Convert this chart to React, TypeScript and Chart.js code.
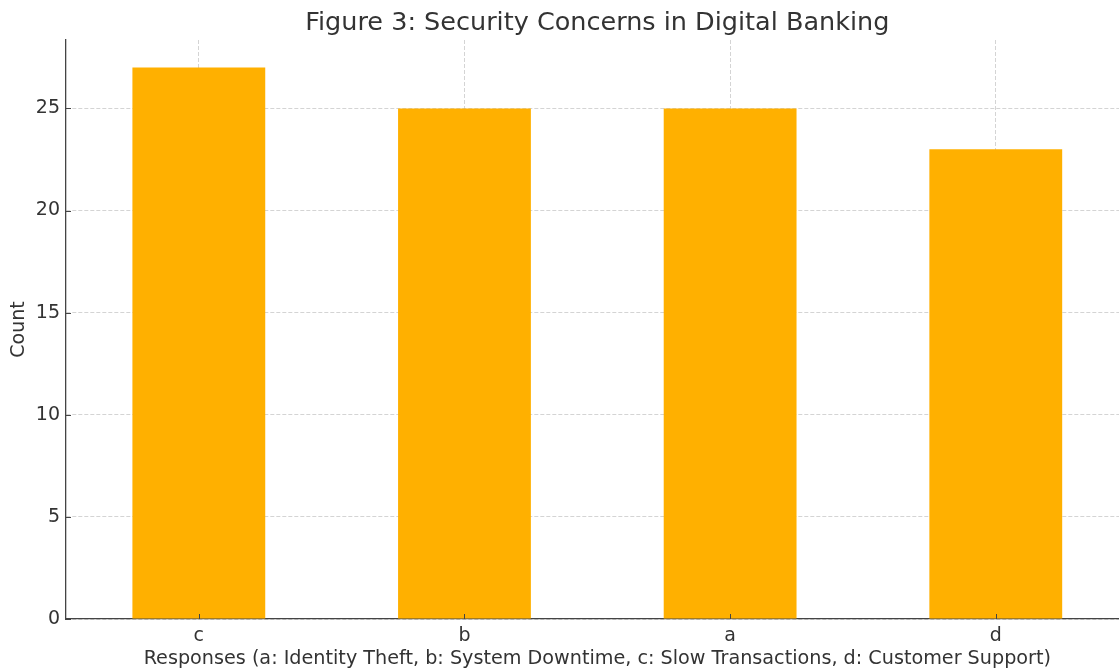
import React, { useEffect, useRef } from "react";
import { Chart, registerables } from "chart.js";

Chart.register(...registerables);

const categories = ["c", "b", "a", "d"];
const counts = [27, 25, 25, 23];
const yTicks = [0, 5, 10, 15, 20, 25];
const titleText = "Figure 3: Security Concerns in Digital Banking";
const xTitle =
  "Responses (a: Identity Theft, b: System Downtime, c: Slow Transactions, d: Customer Support)";
const yTitle = "Count";

const FONT = "'DejaVu Sans', sans-serif";
const TEXT = "#333333";
const SPINE = "#444444";

const titlePlugin = {
  id: "plotTitle",
  afterDraw(chart: any) {
    const { ctx, chartArea, scales } = chart;
    ctx.save();
    // inward tick marks
    ctx.strokeStyle = SPINE;
    ctx.lineWidth = 1;
    ctx.beginPath();
    const ys = scales.y;
    ys.ticks.forEach((t: any) => {
      const py = Math.round(ys.getPixelForValue(t.value)) + 0.5;
      ctx.moveTo(chartArea.left, py);
      ctx.lineTo(chartArea.left + 5, py);
    });
    const xs = scales.x;
    categories.forEach((_c, i) => {
      const px = Math.round(xs.getPixelForValue(i)) + 0.5;
      ctx.moveTo(px, chartArea.bottom);
      ctx.lineTo(px, chartArea.bottom - 5);
    });
    ctx.stroke();
    // title
    ctx.font = `25.5px ${FONT}`;
    ctx.fillStyle = TEXT;
    ctx.textAlign = "center";
    ctx.textBaseline = "alphabetic";
    ctx.fillText(titleText, (chartArea.left + chartArea.right) / 2, 30);
    ctx.restore();
  },
};

export default function App() {
  const ref = useRef<HTMLCanvasElement | null>(null);

  useEffect(() => {
    if (!ref.current) return;
    const gridCommon = {
      color: "rgba(176,176,176,0.55)",
      lineWidth: 1,
      drawTicks: false,
      tickLength: 0,
    };
    const chart = new Chart(ref.current, {
      type: "bar",
      data: {
        labels: categories,
        datasets: [
          {
            data: counts,
            backgroundColor: "#FFB000",
            borderWidth: 0,
            barPercentage: 0.5,
            categoryPercentage: 1.0,
          },
        ],
      },
      options: {
        responsive: false,
        animation: false,
        layout: { padding: { top: 40, right: 11.4, bottom: 0, left: 0 } },
        plugins: {
          legend: { display: false },
          tooltip: { enabled: false },
          title: { display: false },
        },
        scales: {
          x: {
            z: 1,
            offset: true,
            afterFit(scale: any) {
              scale.height = 50;
            },
            grid: { ...gridCommon, offset: false },
            border: { display: true, color: SPINE, width: 1.3, dash: [4, 2] },
            ticks: {
              color: TEXT,
              font: { family: FONT, size: 19 },
              padding: 6,
              maxRotation: 0,
            },
            title: {
              display: true,
              text: xTitle,
              color: TEXT,
              font: { family: FONT, size: 19.2, lineHeight: 1 },
              padding: { top: 0, bottom: 0 },
            },
          },
          y: {
            z: 1,
            min: 0,
            max: 28.35,
            afterFit(scale: any) {
              scale.width = 66;
            },
            afterBuildTicks(scale: any) {
              scale.ticks = yTicks.map((v) => ({ value: v }));
            },
            grid: gridCommon,
            border: { display: true, color: SPINE, width: 1.3, dash: [4, 2] },
            ticks: {
              color: TEXT,
              font: { family: FONT, size: 19 },
              padding: 6,
            },
            title: {
              display: true,
              text: yTitle,
              color: TEXT,
              font: { family: FONT, size: 19, lineHeight: 1 },
              padding: { top: 10, bottom: 0 },
            },
          },
        },
      },
      plugins: [titlePlugin],
    });
    return () => chart.destroy();
  }, []);

  return (
    <div
      style={{
        position: "fixed",
        left: 0,
        top: 0,
        width: 1119,
        height: 669,
        overflow: "hidden",
        background: "#ffffff",
      }}
    >
      <canvas ref={ref} width={1140} height={669} style={{ display: "block" }} />
    </div>
  );
}
